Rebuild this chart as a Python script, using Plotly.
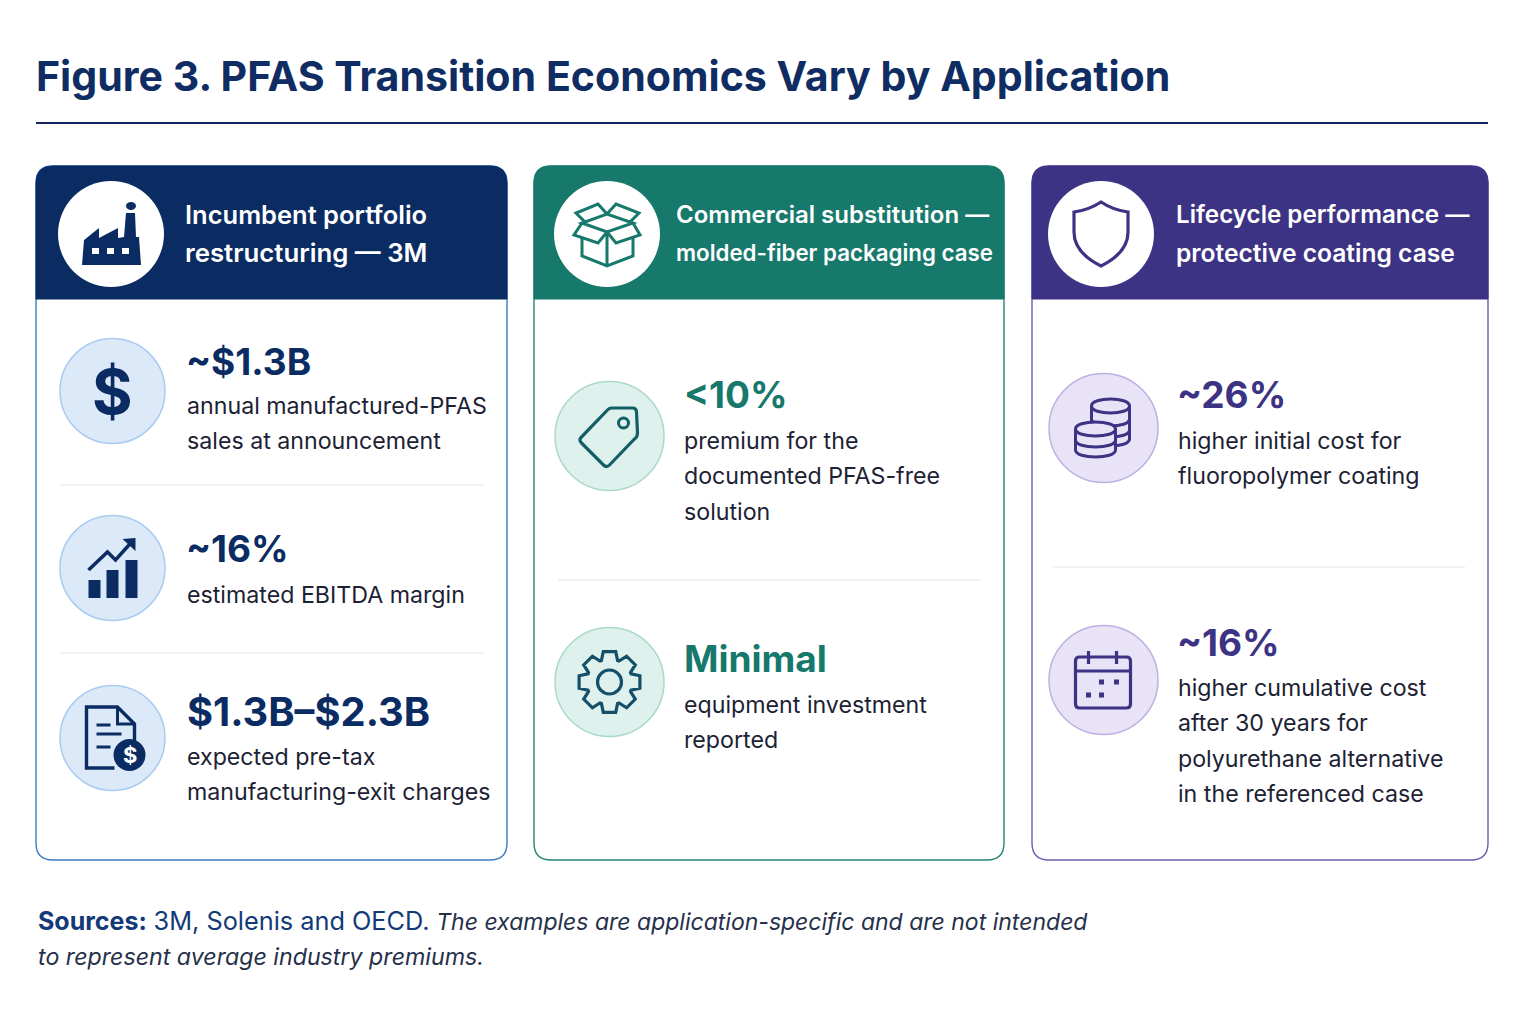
import math
import plotly.graph_objects as go

# chart text
title = "Figure 3. PFAS Transition Economics Vary by Application"
card_titles = [
    ["Incumbent portfolio", "restructuring — 3M"],
    ["Commercial substitution —", "molded-fiber packaging case"],
    ["Lifecycle performance —", "protective coating case"],
]
values_3m = ["~$1.3B", "~16%", "$1.3B–$2.3B"]
notes_3m = [
    ["annual manufactured-PFAS", "sales at announcement"],
    ["estimated EBITDA margin"],
    ["expected pre-tax", "manufacturing-exit charges"],
]
values_fiber = ["<10%", "Minimal"]
notes_fiber = [
    ["premium for the", "documented PFAS-free", "solution"],
    ["equipment investment", "reported"],
]
values_coating = ["~26%", "~16%"]
notes_coating = [
    ["higher initial cost for", "fluoropolymer coating"],
    ["higher cumulative cost", "after 30 years for", "polyurethane alternative", "in the referenced case"],
]
source_lines = [
    "<b style='font-size:25px'>Sources:</b> <span style='font-size:25.3px'>3M, Solenis and OECD.</span> "
    "<i style='color:#26304a;font-size:23px'>The examples are application-specific and are not intended</i>",
    "<i style='color:#26304a;font-size:23.2px'>to represent average industry premiums.</i>",
]

FONT = "Inter"
NAVY = "#0b2c63"
TEAL = "#17786c"
PURPLE = "#3d3384"

fig = go.Figure()
shapes = []
notes = []


def text(x, y, s, size, color, weight=400, anchor="left"):
    notes.append(dict(x=x, y=y, text=s, showarrow=False, xanchor=anchor, yanchor="middle",
                      align="left", borderpad=0, borderwidth=0,
                      font=dict(family=FONT, size=size, color=color, weight=weight)))


def shift(d, cx, cy):
    # icon paths are written around (0, 0), move them to the circle centre
    out = []
    isx = True
    for tok in d.split():
        if tok.isalpha():
            out.append(tok)
        else:
            out.append(str(float(tok) + (cx if isx else cy)))
            isx = not isx
    return " ".join(out)


def path(d, cx, cy, color=None, fill=None, w=3.0):
    line = dict(color=color, width=w) if color else dict(width=0)
    shapes.append(dict(type="path", path=shift(d, cx, cy), line=line,
                       fillcolor=fill if fill else "rgba(0,0,0,0)"))


def circle(cx, cy, r, fill, border=None, w=1.5):
    shapes.append(dict(type="circle", x0=cx - r, x1=cx + r, y0=cy - r, y1=cy + r, fillcolor=fill,
                       line=dict(color=border, width=w) if border else dict(width=0)))


def hline(x0, x1, y, color, w):
    shapes.append(dict(type="line", x0=x0, x1=x1, y0=y, y1=y, line=dict(color=color, width=w)))


def card(x0, x1, head, border):
    y0, y1, yh, r = 166, 860, 299, 17
    d = (f"M {x0 + r} {y0} L {x1 - r} {y0} Q {x1} {y0} {x1} {y0 + r} L {x1} {y1 - r} Q {x1} {y1} {x1 - r} {y1} "
         f"L {x0 + r} {y1} Q {x0} {y1} {x0} {y1 - r} L {x0} {y0 + r} Q {x0} {y0} {x0 + r} {y0} Z")
    shapes.append(dict(type="path", path=d, fillcolor="white", line=dict(color=border, width=1.4)))
    d = (f"M {x0 + r} {y0} L {x1 - r} {y0} Q {x1} {y0} {x1} {y0 + r} L {x1} {yh} L {x0} {yh} "
         f"L {x0} {y0 + r} Q {x0} {y0} {x0 + r} {y0} Z")
    shapes.append(dict(type="path", path=d, fillcolor=head, line=dict(color=head, width=1)))


def factory(cx, cy):
    path("M -29 31 L -27 6 L -12 -6 L -12 4 L 7 -6 L 7 4 L 13 3 L 15 -21 L 24 -21 L 25 3 L 28 3 L 30 31 Z", cx, cy, fill=NAVY)
    for wx in (-19, -4, 11):
        path(f"M {wx} 14 L {wx + 7} 14 L {wx + 7} 20 L {wx} 20 Z", cx, cy, fill="white")
    shapes.append(dict(type="circle", x0=cx + 15, x1=cx + 25, y0=cy - 32, y1=cy - 24, fillcolor=NAVY, line=dict(width=0)))


def bars_up(cx, cy):
    for x0, top in ((-24, 12), (-6, 2), (13, -8)):
        path(f"M {x0} {top} L {x0 + 12} {top} L {x0 + 12} 30 L {x0} 30 Z", cx, cy, fill=NAVY)
    path("M -24 2 L -5 -16 L 3 -8 L 21 -28", cx, cy, color=NAVY, w=3.5)
    path("M 10 -29 L 23 -30 L 23 -17 Z", cx, cy, fill=NAVY)


def document(cx, cy):
    path("M 2 30 L -26 30 L -26 -31 L 5 -31 L 22 -14 L 22 5", cx, cy, color=NAVY, w=3.4)
    path("M 5 -31 L 5 -14 L 22 -14", cx, cy, color=NAVY, w=3)
    path("M -16 -13 L -2 -13", cx, cy, color=NAVY, w=3)
    path("M -16 -4 L 9 -4", cx, cy, color=NAVY, w=3)
    path("M -16 9 L -2 9", cx, cy, color=NAVY, w=3)
    circle(cx + 17, cy + 17, 16, NAVY)
    text(cx + 17, cy + 17, "$", 22, "white", 700, "center")


def box(cx, cy):
    c = TEAL
    path("M -25 4 L -25 22 L 0 32 L 26 22 L 26 4", cx, cy, color=c)
    path("M 0 -2 L 0 32", cx, cy, color=c)
    path("M -25 -11 L 0 -2 L 26 -11 L 0 -20 Z", cx, cy, color=c)
    path("M 0 -2 L -9 9 L -33 1 L -25 -11", cx, cy, color=c)
    path("M 0 -2 L 9 9 L 33 1 L 26 -11", cx, cy, color=c)
    path("M -22 -12 L -31 -21 L -9 -30 L 0 -20", cx, cy, color=c)
    path("M 23 -12 L 32 -21 L 9 -30 L 0 -20", cx, cy, color=c)


def price_tag(cx, cy):
    c = "#125f66"
    path("M 2 -28 L 23 -28 Q 27 -28 27 -24 L 28 -3 Q 28 1 25 3 L 0 29 Q -3 32 -6 29 L -28 7 "
         "Q -31 4 -28 1 L -2 -26 Q 0 -28 2 -28 Z", cx, cy, color=c, w=3.2)
    shapes.append(dict(type="circle", x0=cx + 9, x1=cx + 19, y0=cy - 18, y1=cy - 8, line=dict(color=c, width=3)))


def gear(cx, cy):
    c = "#15506a"
    r_out, r_in = 31, 23
    pts = []
    for i in range(8):
        a = math.radians(45 * i - 90)
        for off, rad in ((-0.36, r_in), (-0.2, r_out), (0.2, r_out), (0.36, r_in)):
            pts.append((rad * math.cos(a + off), rad * math.sin(a + off)))
    d = "M " + " L ".join(f"{x:.1f} {y:.1f}" for x, y in pts) + " Z"
    path(d, cx, cy, color=c, w=3.2)
    circle(cx, cy, 12, "rgba(0,0,0,0)", c, 3.2)


def shield(cx, cy):
    path("M 0 -32 Q -12 -24 -27 -22 L -27 -2 C -27 15 -12 26 0 32 C 12 26 27 15 27 -2 L 27 -22 Q 12 -24 0 -32 Z",
         cx, cy, color=PURPLE, w=3.2)


def coin_stack(cx, cy, rx, ry, h, bands, fill):
    d = (f"M {-rx} 0 C {-rx} {-ry * 1.33} {rx} {-ry * 1.33} {rx} 0 L {rx} {h} "
         f"C {rx} {h + ry * 1.33} {-rx} {h + ry * 1.33} {-rx} {h} Z")
    path(d, cx, cy, color=PURPLE, fill=fill, w=3)
    for b in bands:
        path(f"M {-rx} {b} C {-rx} {b + ry * 1.33} {rx} {b + ry * 1.33} {rx} {b}", cx, cy, color=PURPLE, w=3)


def coins(cx, cy):
    coin_stack(cx + 7, cy - 22, 19, 7, 33, [0, 13, 24], "#e8e3f6")
    coin_stack(cx - 8, cy + 1, 20, 7, 21, [0, 11], "#e8e3f6")


def calendar(cx, cy):
    c = PURPLE
    path("M -24 -23 L 23 -23 Q 27 -23 27 -19 L 27 24 Q 27 28 23 28 L -24 28 Q -28 28 -28 24 L -28 -19 Q -28 -23 -24 -23 Z",
         cx, cy, color=c, w=3.2)
    path("M -28 -9 L 27 -9", cx, cy, color=c, w=3)
    path("M -15 -29 L -15 -16", cx, cy, color=c, w=3.2)
    path("M 13 -29 L 13 -16", cx, cy, color=c, w=3.2)
    for dx, dy in ((-2, 2), (13, 2), (-15, 15), (-2, 15)):
        path(f"M {dx - 2.5} {dy - 2.5} L {dx + 2.5} {dy - 2.5} L {dx + 2.5} {dy + 2.5} L {dx - 2.5} {dy + 2.5} Z", cx, cy, fill=c)


def row(x_icon, y_icon, r, fill, border, icon, x_text, y_val, val, color, lines, y_lines, val_size=37):
    circle(x_icon, y_icon, r, fill, border)
    if icon == "$":
        text(x_icon, y_icon, "$", 62, NAVY, 700, "center")
    else:
        icon(x_icon, y_icon)
    text(x_text - (1.5 if val[0] == "~" else 0), y_val, val.replace("<", "&lt;"), val_size, color, 700)
    for s, y in zip(lines, y_lines):
        text(x_text, y, s, NOTE_SIZE, "#1c2233", 400)


NOTE_SIZE = 23.2

# title + rule
text(36, 75.5, title, 41.1, "#0f2d62", 700)
hline(36, 1488, 123, "#14235f", 1.8)

# cards
card(36, 507, NAVY, "#3d7cc4")
card(534, 1004, TEAL, "#2a8578")
card(1032, 1488, PURPLE, "#6d60ae")

for cx, tx, lines, ic, hs in ((111, 185, card_titles[0], factory, (25.5, 25.8)), (607, 676, card_titles[1], box, (24, 22.3)),
                              (1101, 1176, card_titles[2], shield, (24.2, 24.6))):
    circle(cx, 234, 53, "white")
    ic(cx, 234)
    text(tx, 214.5, lines[0], hs[0], "white", 600)
    text(tx, 252.5, lines[1], hs[1], "white", 600)

# incumbent portfolio
BLUE_F, BLUE_B = "#dce9f9", "#a9cbf0"
row(112.5, 391, 52.5, BLUE_F, BLUE_B, "$", 187, 361, values_3m[0], NAVY, notes_3m[0], [406, 441])
hline(60, 484, 485, "#e4e6ea", 1.2)
row(112.5, 568, 52.5, BLUE_F, BLUE_B, bars_up, 187, 548, values_3m[1], NAVY, notes_3m[1], [595])
hline(60, 484, 653, "#e4e6ea", 1.2)
row(112.5, 738, 52.5, BLUE_F, BLUE_B, document, 187, 711, values_3m[2], NAVY, notes_3m[2], [757, 792], val_size=39.8)

# molded fiber
TEAL_F, TEAL_B = "#dff1ec", "#a8d9cc"
row(609.5, 436, 54.5, TEAL_F, TEAL_B, price_tag, 684, 394, values_fiber[0], TEAL, notes_fiber[0], [441, 476, 512])
hline(558, 981, 580, "#e4e6ea", 1.2)
row(609.5, 682, 54.5, TEAL_F, TEAL_B, gear, 684, 658, values_fiber[1], TEAL, notes_fiber[1], [705, 740])

# protective coating
PUR_F, PUR_B = "#e8e3f6", "#bdb0e3"
row(1103.5, 428, 54.5, PUR_F, PUR_B, coins, 1178, 394, values_coating[0], PURPLE, notes_coating[0], [441, 476])
hline(1053, 1465, 567, "#e4e6ea", 1.2)
row(1103.5, 680, 54.5, PUR_F, PUR_B, calendar, 1178, 642, values_coating[1], PURPLE, notes_coating[1], [688, 723, 759, 794])

# footnote
text(38, 920, source_lines[0], 24, "#123a78")
text(38, 957, source_lines[1], 24, "#26304a")

fig.update_layout(
    width=1536, height=1024, margin=dict(l=0, r=0, t=0, b=0), autosize=False,
    paper_bgcolor="white", plot_bgcolor="white", showlegend=False,
    xaxis=dict(range=[0, 1536], visible=False, fixedrange=True),
    yaxis=dict(range=[1024, 0], visible=False, fixedrange=True),
    shapes=shapes, annotations=notes,
)
fig.write_html("out.html", config=dict(displayModeBar=False),
               post_script="document.body.style.margin='0';document.body.style.overflow='hidden';")
